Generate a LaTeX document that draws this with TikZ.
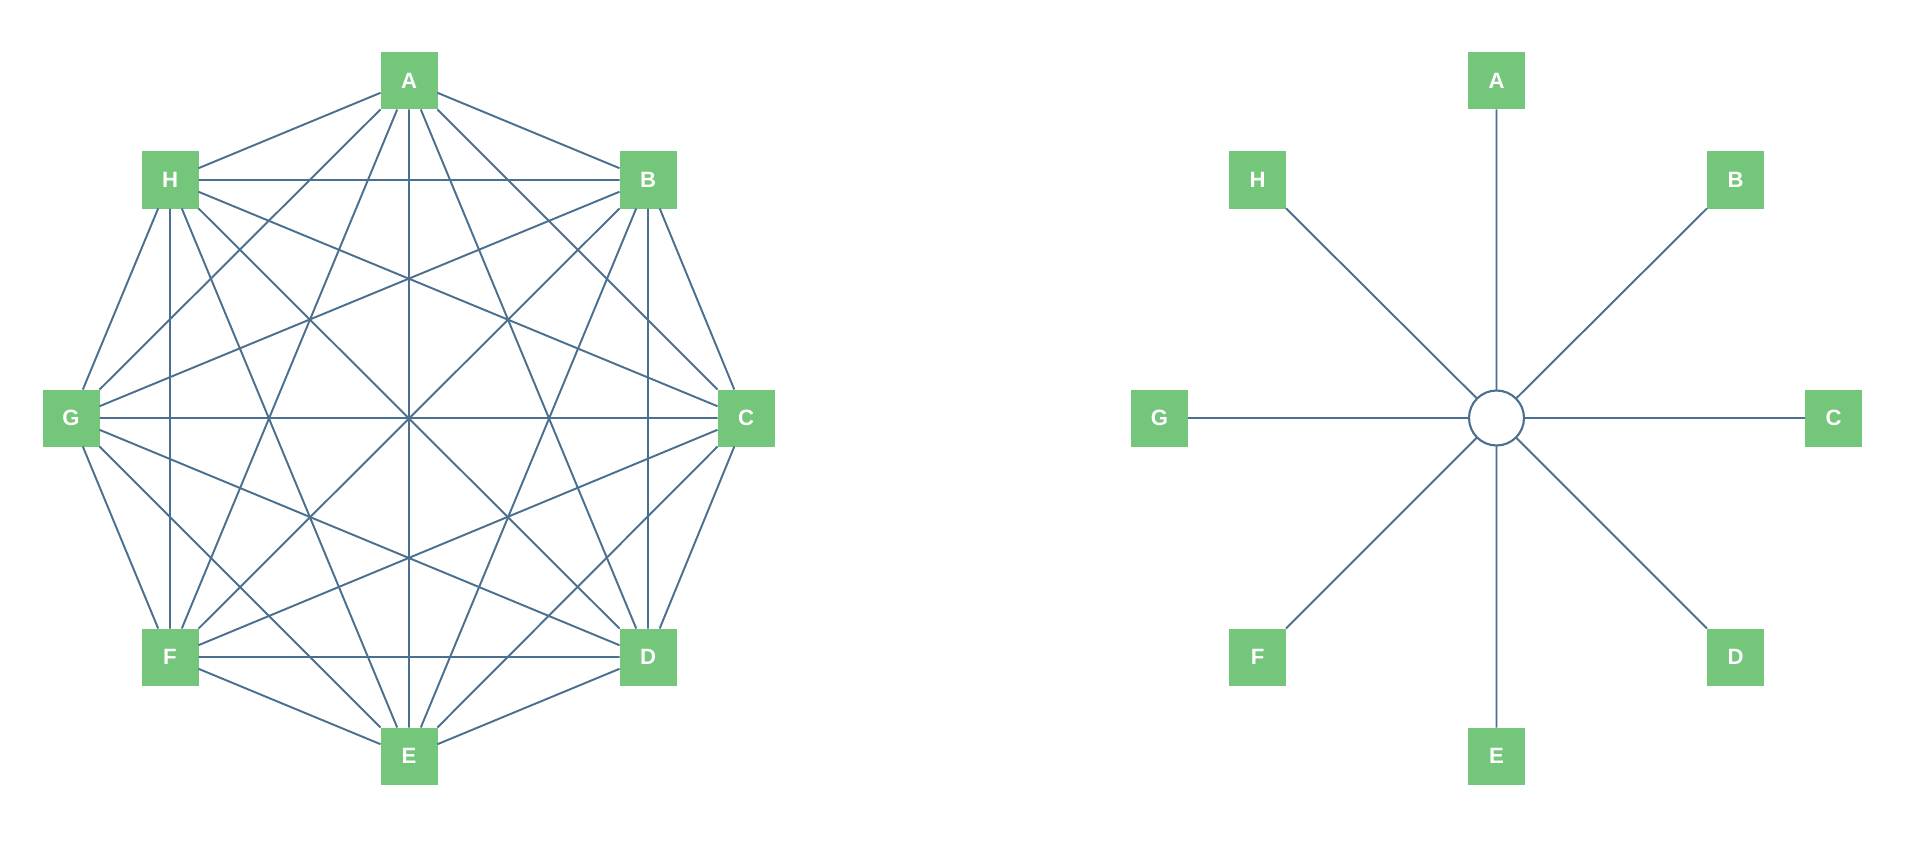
\documentclass[tikz,border=0pt]{standalone}
\usepackage{fontspec}
\setmainfont{Liberation Sans}
\usetikzlibrary{arrows}
\definecolor{nodegreen}{HTML}{74C67A}
\definecolor{linkblue}{HTML}{4A6F8F}

\begin{document}
\begin{tikzpicture}
      \tikzset{peer/.style={draw=none, fill=nodegreen, minimum size=0.57cm, inner sep=0pt, outer sep=0pt, text=white, font=\fontsize{6.3}{7}\selectfont\bfseries}, hub/.style={circle, draw=linkblue, line width=0.6pt, fill=white, minimum size=0.55cm, inner sep=0pt, outer sep=0pt}, link/.style={draw=linkblue, line width=0.55pt}}
      \useasboundingbox (0,0) rectangle (19.2,-8.49);
      % mesh
      \node[peer] (A) at (4.09,-0.81) {A};
      \node[peer] (B) at (6.48,-1.80) {B};
      \node[peer] (C) at (7.46,-4.18) {C};
      \node[peer] (D) at (6.48,-6.57) {D};
      \node[peer] (E) at (4.09,-7.56) {E};
      \node[peer] (F) at (1.70,-6.57) {F};
      \node[peer] (G) at (0.71,-4.18) {G};
      \node[peer] (H) at (1.70,-1.80) {H};
      \draw[link] (A) -- (B) (A) -- (C) (A) -- (D) (A) -- (E) (A) -- (F) (A) -- (G) (A) -- (H);
      \draw[link] (B) -- (C) (B) -- (D) (B) -- (E) (B) -- (F) (B) -- (G) (B) -- (H);
      \draw[link] (C) -- (D) (C) -- (E) (C) -- (F) (C) -- (G) (C) -- (H);
      \draw[link] (D) -- (E) (D) -- (F) (D) -- (G) (D) -- (H);
      \draw[link] (E) -- (F) (E) -- (G) (E) -- (H);
      \draw[link] (F) -- (G) (F) -- (H);
      \draw[link] (G) -- (H);
      % star
      \node[hub] (S) at (14.965,-4.18) {};
      \node[peer] (sA) at (14.965,-0.81) {A};
      \node[peer] (sB) at (17.355,-1.80) {B};
      \node[peer] (sC) at (18.335,-4.18) {C};
      \node[peer] (sD) at (17.355,-6.57) {D};
      \node[peer] (sE) at (14.965,-7.56) {E};
      \node[peer] (sF) at (12.575,-6.57) {F};
      \node[peer] (sG) at (11.595,-4.18) {G};
      \node[peer] (sH) at (12.575,-1.80) {H};
      \draw[link] (S) -- (sA) (S) -- (sB) (S) -- (sC) (S) -- (sD) (S) -- (sE) (S) -- (sF) (S) -- (sG) (S) -- (sH);
    \end{tikzpicture}
\end{document}
